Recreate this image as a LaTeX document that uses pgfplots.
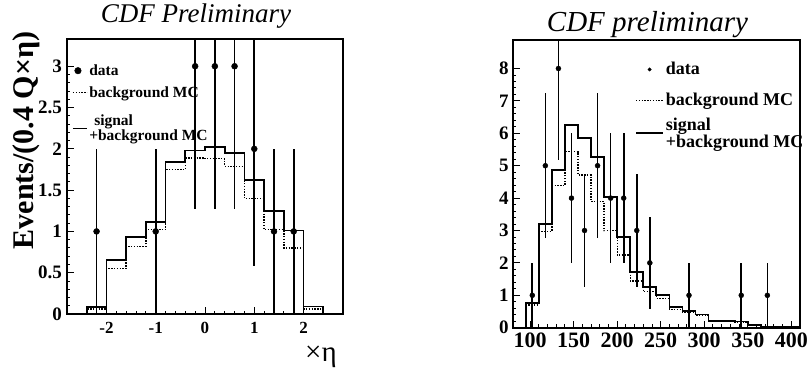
\documentclass[border=0pt]{standalone}
\usepackage{fontspec}
\setmainfont{Liberation Serif}
\usepackage{pgfplots}
\usepackage{pgfplotstable}
\pgfplotsset{compat=1.18}
\newcommand{\fs}[1]{\fontsize{#1}{#1}\selectfont}

% left panel: signal+background (S) and background (B), bin low edges
\pgfplotstableread{
x     s     b
-2.4  0     0
-2.4  0.08  0.06
-2.0  0.65  0.55
-1.6  0.93  0.82
-1.2  1.11  1.02
-0.8  1.84  1.75
-0.4  1.98  1.89
0.0   2.02  1.88
0.4   1.95  1.79
0.8   1.62  1.40
1.2   1.25  1.02
1.6   1.01  0.80
2.0   0.09  0.06
2.4   0.09  0.06
2.4   0     0
}\lefthist
\pgfplotstableread{
x     y  e
-2.2  1  1
-1.0  1  1
-0.2  3  1.732
0.2   3  1.732
0.6   3  1.732
1.0   2  1.414
1.4   1  1
1.8   1  1
}\leftdata
% right panel
\pgfplotstableread{
x    s     b
95   0     0
95   0.77  0.70
110  3.19  2.98
125  4.86  4.38
140  6.26  5.43
155  5.85  4.71
170  5.27  3.89
185  4.04  2.99
200  2.81  2.24
215  1.72  1.44
230  1.26  1.11
245  1.01  0.90
260  0.65  0.57
275  0.52  0.46
290  0.41  0.39
305  0.21  0.21
320  0.20  0.19
335  0.19  0.18
350  0.08  0.06
365  0.04  0.04
380  0.03  0.04
395  0.03  0.03
410  0.03  0.03
}\righthist
\pgfplotstableread{
x      y  e
102.5  1  1
117.5  5  2.236
132.5  8  2.828
147.5  4  2
162.5  3  1.732
177.5  5  2.236
192.5  4  2
207.5  4  2
222.5  3  1.732
237.5  2  1.414
282.5  1  1
342.5  1  1
372.5  1  1
}\rightdata

\pgfplotsset{
  rootstyle/.style={
    scale only axis, anchor=south west,
    axis line style={line width=1.6pt},
    tick align=inside, xtick pos=bottom, ytick pos=left,
    minor x tick num=4, minor y tick num=4,
    major tick length=7pt, minor tick length=3.5pt,
    every tick/.style={black, line width=0.9pt},
    clip=true,
  },
  solidh/.style={const plot, black, line width=1.8pt, forget plot},
  dotth/.style={const plot, black, line width=1.3pt, dash pattern=on 1.4pt off 1.4pt, forget plot},
  datast/.style={only marks, black, mark=*, forget plot,
    error bars/y dir=both, error bars/y explicit, error bars/error mark=none,
    error bars/error bar style={line width=1.6pt}},
  legdotS/.style={legend image code/.code={\draw[black, line width=1.2pt, dash pattern=on 1.4pt off 1.4pt] (0pt,0pt) -- (14pt,0pt);}},
  legsolS/.style={legend image code/.code={\draw[black, line width=1.6pt] (0pt,0pt) -- (14pt,0pt);}},
  legdatS/.style={legend image code/.code={\fill[black] (5pt,0pt) circle (3.3pt);}},
  legdotL/.style={legend image code/.code={\draw[black, line width=1.2pt, dash pattern=on 1.4pt off 1.4pt] (0pt,0pt) -- (27pt,0pt);}},
  legsolL/.style={legend image code/.code={\draw[black, line width=1.6pt] (0pt,0pt) -- (27pt,0pt);}},
  legdatL/.style={legend image code/.code={\fill[black] (13.5pt,0pt) circle (1.7pt);}},
}

\begin{document}
\begin{tikzpicture}
\useasboundingbox (0,0) rectangle (807pt,368pt);

\begin{axis}[rootstyle,
  at={(67pt,54pt)}, width=276pt, height=275pt,
  xmin=-2.8, xmax=2.8, ymin=0, ymax=3.33,
  xtick={-2,-1,0,1,2}, xticklabels={-2,-1,0,1,2},
  ytick={0,0.5,1,1.5,2,2.5,3}, yticklabels={0,0.5,1,1.5,2,2.5,3},
  xticklabel style={font=\bfseries\fs{17}, inner sep=0pt, yshift=-8pt},
  yticklabel style={font=\bfseries\fs{19}, inner sep=0pt, xshift=-5pt},
  ylabel={Events/(0.4 Q×η)},
  ylabel style={font=\bfseries\fs{30}, at={(axis description cs:-0.123,0.631)}, anchor=base, inner sep=0pt},
  xlabel={×η},
  xlabel style={font=\fs{29}, at={(axis description cs:0.92,-0.174)}, anchor=base, inner sep=0pt},
  legend style={draw=none, fill=none, at={(axis description cs:0.018,0.918)}, anchor=north west,
    font=\bfseries\fs{15.5}, cells={anchor=west, align=left}, row sep=6pt, inner sep=0pt,
    nodes={inner xsep=1.5pt}},
]
\addplot[solidh] table[x=x,y=s] {\lefthist};
\addplot[dotth] table[x=x,y=b] {\lefthist};
\addplot[mark size=3pt, datast] table[x=x,y=y,y error=e] {\leftdata};
\addlegendimage{legdatS}
\addlegendentry[inner ysep=2.8pt]{data}
\addlegendimage{legdotS}
\addlegendentry[inner ysep=1pt]{background MC}
\addlegendimage{legsolS}
\addlegendentry[inner ysep=8.8pt, font=\bfseries\fontsize{15.5}{12.5}\selectfont]{\hspace*{5pt}signal\\+background MC}
\end{axis}

\begin{axis}[rootstyle,
  at={(512.7pt,40.3pt)}, width=287.3pt, height=287.7pt,
  xmin=80, xmax=410, ymin=0, ymax=8.88,
  xtick={100,150,200,250,300,350,400}, xticklabels={100,150,200,250,300,350,400},
  ytick={0,1,2,3,4,5,6,7,8}, yticklabels={0,1,2,3,4,5,6,7,8},
  xticklabel style={font=\bfseries\fs{22}, inner sep=0pt, yshift=-5pt},
  yticklabel style={font=\bfseries\fs{19}, inner sep=0pt, xshift=-4pt},
  legend style={draw=none, fill=none, at={(axis description cs:0.426,0.955)}, anchor=north west,
    font=\bfseries\fs{18}, cells={anchor=west, align=left}, row sep=6pt, inner sep=0pt,
    nodes={inner xsep=2pt}},
]
\addplot[solidh] table[x=x,y=s] {\righthist};
\addplot[dotth] table[x=x,y=b] {\righthist};
\addplot[mark size=2.5pt, datast] table[x=x,y=y,y error=e] {\rightdata};
\addlegendimage{legdatL}
\addlegendentry[inner ysep=9.3pt]{data}
\addlegendimage{legdotL}
\addlegendentry[inner ysep=1.5pt]{background MC}
\addlegendimage{legsolL}
\addlegendentry[inner ysep=2.8pt, font=\bfseries\fontsize{18}{13}\selectfont]{signal\\+background MC}
\end{axis}

\node[font=\itshape\fs{27}, anchor=base] at (196pt,345pt) {CDF Preliminary};
\node[font=\itshape\fs{29}, anchor=base] at (647.5pt,337pt) {CDF preliminary};
\end{tikzpicture}
\end{document}
